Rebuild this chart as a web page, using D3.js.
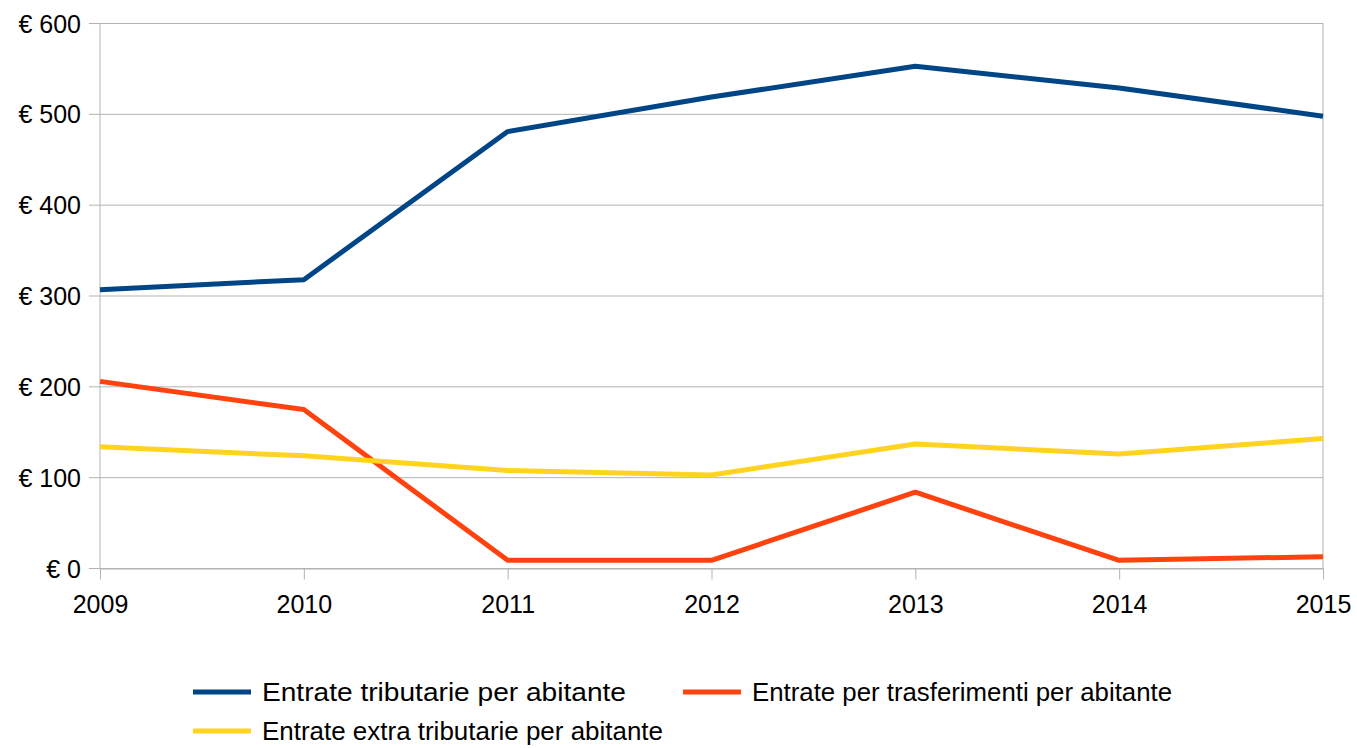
<!DOCTYPE html>
<html>
<head>
<meta charset="utf-8">
<script src="https://cdn.jsdelivr.net/npm/d3@7"></script>
<style>
  body { margin: 0; background: #fff; }
  svg { display: block; font-family: "Liberation Sans", Arial, sans-serif; }
</style>
</head>
<body>
<svg id="chart" width="1357" height="748"></svg>
<script>
const years = ['2009', '2010', '2011', '2012', '2013', '2014', '2015']
const tributarie = [307, 318, 481, 519, 553, 529, 498]
const trasferimenti = [206, 175, 9, 9, 84, 9, 13]
const extraTributarie = [134, 124, 108, 103, 137, 126, 143]
const yTicks = [0, 100, 200, 300, 400, 500, 600]

const series = [
  {name: 'Entrate tributarie per abitante', values: tributarie, color: '#004586'},
  {name: 'Entrate per trasferimenti per abitante', values: trasferimenti, color: '#ff420e'},
  {name: 'Entrate extra tributarie per abitante', values: extraTributarie, color: '#ffd320'}
]

const margin = {top: 23.5, right: 34, bottom: 179.5, left: 100}
const width = 1357, height = 748
const svg = d3.select('#chart')

// scales
const x = d3.scalePoint()
  .domain(years)
  .range([margin.left, width - margin.right])

const y = d3.scaleLinear()
  .domain([0, 600])
  .range([height - margin.bottom, margin.top])

const grid = '#b3b3b3'

// horizontal gridlines
svg.append('g')
  .selectAll('line')
  .data(yTicks)
  .join('line')
    .attr('x1', margin.left - 11)
    .attr('x2', width - margin.right)
    .attr('y1', d => y(d))
    .attr('y2', d => y(d))
    .attr('stroke', grid)
    .attr('stroke-width', 1)

// left & right frame lines
svg.append('g')
  .selectAll('line')
  .data([years[0], years[years.length - 1]])
  .join('line')
    .attr('x1', d => x(d))
    .attr('x2', d => x(d))
    .attr('y1', y(600))
    .attr('y2', y(0))
    .attr('stroke', grid)

// x axis
const xAxis = svg.append('g')
  .attr('transform', 'translate(0,' + y(0) + ')')
  .call(d3.axisBottom(x).tickSize(11).tickSizeOuter(0))
xAxis.select('.domain').attr('stroke', grid)
xAxis.selectAll('.tick line').attr('stroke', grid)
xAxis.selectAll('.tick text')
  .attr('fill', '#000')
  .attr('font-size', 25)
  .attr('font-family', '"Liberation Sans", Arial, sans-serif')
  .attr('y', 27)
  .attr('dy', '0.71em')

// y labels
svg.append('g')
  .selectAll('text')
  .data(yTicks)
  .join('text')
    .attr('x', margin.left - 19)
    .attr('y', d => y(d))
    .attr('dy', '0.36em')
    .attr('text-anchor', 'end')
    .attr('font-size', 25)
    .text(d => '€ ' + d)

// lines
const line = d3.line()
  .x((d, i) => x(years[i]))
  .y(d => y(d))

svg.append('g')
  .selectAll('path')
  .data(series)
  .join('path')
    .attr('d', d => line(d.values))
    .attr('fill', 'none')
    .attr('stroke', d => d.color)
    .attr('stroke-width', 5)
    .attr('stroke-linejoin', 'round')

// legend (position x, y, text width)
const legendPos = [[193, 692, 364], [683, 692, 420], [193, 731, 401]]
const legend = svg.append('g')
  .selectAll('g')
  .data(series)
  .join('g')
    .attr('transform', (d, i) => 'translate(' + legendPos[i][0] + ',' + legendPos[i][1] + ')')

legend.append('line')
  .attr('x1', 0)
  .attr('x2', 58)
  .attr('stroke', d => d.color)
  .attr('stroke-width', 5)

legend.append('text')
  .attr('x', 69)
  .attr('dy', '0.36em')
  .attr('font-size', 26)
  .attr('textLength', (d, i) => legendPos[i][2])
  .attr('lengthAdjust', 'spacingAndGlyphs')
  .text(d => d.name)
</script>
</body>
</html>
